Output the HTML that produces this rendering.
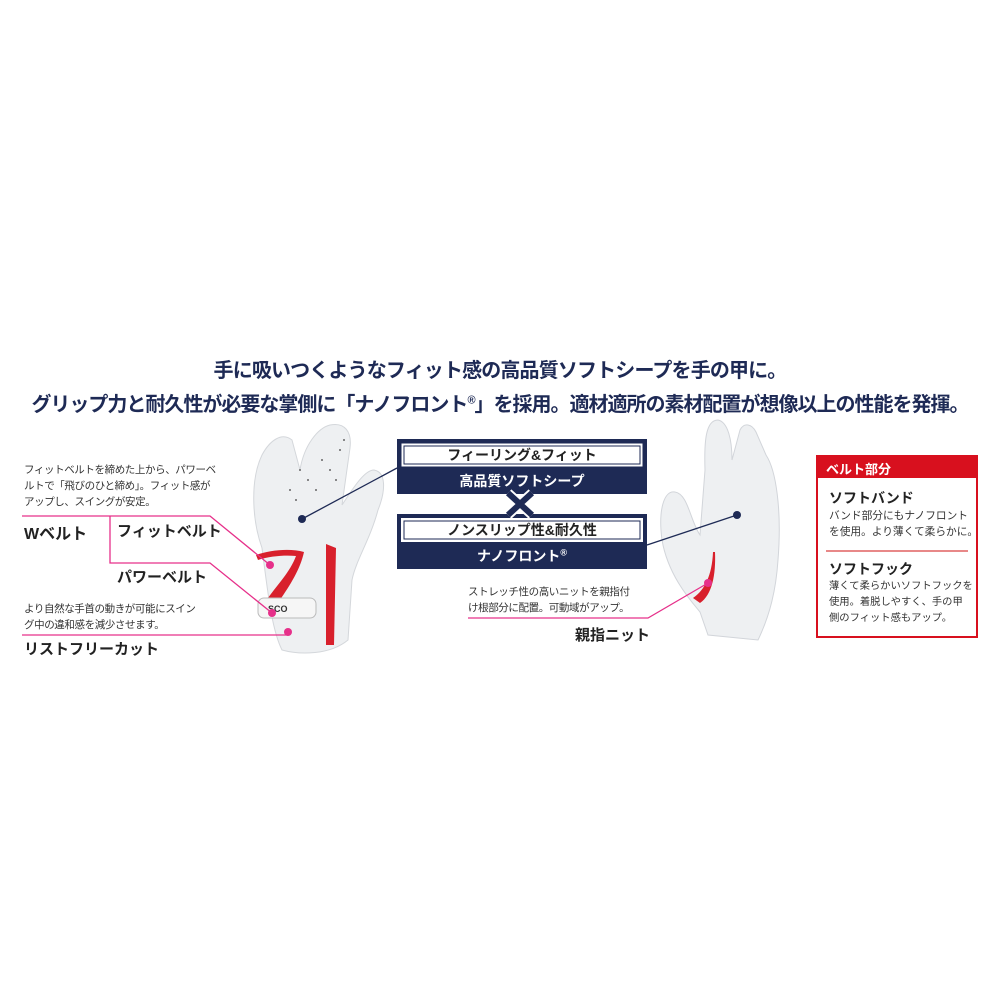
<!DOCTYPE html>
<html><head><meta charset="utf-8"><style>
body{margin:0;width:1000px;height:1000px;background:#fff;position:relative;overflow:hidden;font-family:"Liberation Sans","Noto Sans CJK JP",sans-serif;color:#222}
.a{position:absolute;white-space:nowrap}
.t{font-weight:bold;color:#1e2a55;font-size:20px}
.p{font-size:10.5px;line-height:16px;color:#333;letter-spacing:-0.4px}
.h{font-weight:bold;font-size:15px;color:#222}
</style></head><body>
<svg class="a" style="left:0;top:0" width="1000" height="1000">
<g fill="#eef0f2" stroke="#d4d7db" stroke-width="1">
<path d="M262,548 C252,520 250,480 262,455 C270,440 282,432 292,440 L300,470 C304,445 318,428 330,425 C345,422 352,432 350,448 L342,505 C352,490 364,470 374,470 C386,472 386,490 378,510 C370,540 356,560 352,580 L348,640 C330,655 300,655 282,650 C272,630 268,595 262,548 Z"/>
</g>
<path d="M326,544 L336,548 L334,645 L326,645 Z" fill="#d8202c"/>
<path d="M258,560 C270,556 285,555 296,556 C290,572 278,584 268,598 L280,600 C290,585 300,570 304,552 C290,548 270,550 256,555 Z" fill="#d8202c"/>
<rect x="258" y="598" width="58" height="20" rx="6" fill="#f6f6f6" stroke="#bbb"/>
<text x="268" y="612" font-size="9" font-family="Liberation Sans" fill="#333" font-weight="bold">SCO</text>
<g fill="#666"><circle cx="300" cy="470" r="1"/><circle cx="308" cy="480" r="1"/><circle cx="316" cy="490" r="1"/><circle cx="322" cy="460" r="1"/><circle cx="330" cy="470" r="1"/><circle cx="336" cy="480" r="1"/><circle cx="340" cy="450" r="1"/><circle cx="344" cy="440" r="1"/><circle cx="290" cy="490" r="1"/><circle cx="296" cy="500" r="1"/></g>
<path d="M700,612 C690,600 668,575 662,540 C658,510 664,490 675,492 C688,494 690,520 700,535 L705,470 C704,440 706,420 718,420 C728,422 732,440 732,460 L740,430 C744,422 752,424 756,432 L766,455 C776,470 782,510 778,560 C776,590 770,615 758,640 L708,635 Z" fill="#eef0f2" stroke="#d2d5da"/>
<path d="M713,552 C712,575 705,590 693,598 L700,603 C712,595 716,575 715,552 Z" fill="#d8202c"/>
<g fill="none" stroke-width="1.3">
<path d="M22,516 H210 L270,565 M110,516 V563 H210 L272,613 M22,635 H288" stroke="#e6308a"/>
<path d="M468,618 H648 L708,583" stroke="#e6308a"/>
<path d="M302,519 L397,468 M737,515 L647,545" stroke="#1e2a55"/>
</g>
<g fill="#e6308a"><circle cx="270" cy="565" r="4"/><circle cx="272" cy="613" r="4"/><circle cx="288" cy="632" r="4"/><circle cx="708" cy="583" r="4"/></g>
<g fill="#1e2a55"><circle cx="302" cy="519" r="4"/><circle cx="737" cy="515" r="4"/></g>
<rect x="397" y="439" width="250" height="55" fill="#1e2a55"/>
<rect x="401" y="443" width="242" height="24" fill="#fff" stroke="#1e2a55" stroke-width="1"/>
<rect x="404" y="446" width="236" height="18" fill="none" stroke="#1e2a55" stroke-width="1"/>
<rect x="397" y="514" width="250" height="55" fill="#1e2a55"/>
<rect x="401" y="518" width="242" height="24" fill="#fff"/>
<rect x="404" y="521" width="236" height="18" fill="none" stroke="#1e2a55" stroke-width="1"/>
<path d="M508,493 L532,515 M532,493 L508,515" stroke="#fff" stroke-width="10"/>
<path d="M508,493 L532,515 M532,493 L508,515" stroke="#1e2a55" stroke-width="6"/>
<rect x="817" y="456" width="160" height="181" fill="#fff" stroke="#d8101e" stroke-width="2"/>
<rect x="817" y="456" width="160" height="22" fill="#d8101e"/>
<line x1="826" y1="551" x2="968" y2="551" stroke="#e06060" stroke-width="1.5"/>
</svg>
<div class="a t" style="left:0;width:1000px;text-align:center;top:354px;letter-spacing:-0.85px">手に吸いつくようなフィット感の高品質ソフトシープを手の甲に。</div>
<div class="a t" style="left:0;width:1000px;text-align:center;top:388px;letter-spacing:-1px">グリップ力と耐久性が必要な掌側に「ナノフロント<sup style="font-size:11px">®</sup>」を採用。適材適所の素材配置が想像以上の性能を発揮。</div>
<div class="a p" style="left:24px;top:462px">フィットベルトを締めた上から、パワーベ<br>ルトで「飛びのひと締め」。フィット感が<br>アップし、スイングが安定。</div>
<div class="a h" style="left:24px;top:520px;font-size:16px">Wベルト</div>
<div class="a h" style="left:117px;top:520px">フィットベルト</div>
<div class="a h" style="left:117px;top:566px">パワーベルト</div>
<div class="a p" style="left:24px;top:601px">より自然な手首の動きが可能にスイン<br>グ中の違和感を減少させます。</div>
<div class="a h" style="left:24px;top:638px">リストフリーカット</div>
<div class="a" style="left:397px;width:250px;text-align:center;top:445px;font-size:14px;font-weight:bold;color:#222">フィーリング&amp;フィット</div>
<div class="a" style="left:397px;width:250px;text-align:center;top:471px;font-size:14px;font-weight:bold;color:#fff">高品質ソフトシープ</div>
<div class="a" style="left:397px;width:250px;text-align:center;top:520px;font-size:14px;font-weight:bold;color:#222">ノンスリップ性&amp;耐久性</div>
<div class="a" style="left:397px;width:250px;text-align:center;top:546px;font-size:14px;font-weight:bold;color:#fff">ナノフロント<sup style="font-size:9px">®</sup></div>
<div class="a p" style="left:468px;top:584px">ストレッチ性の高いニットを親指付<br>け根部分に配置。可動域がアップ。</div>
<div class="a h" style="left:575px;top:624px">親指ニット</div>
<div class="a" style="left:826px;top:459px;font-size:13px;font-weight:bold;color:#fff">ベルト部分</div>
<div class="a h" style="left:829px;top:488px;font-size:14px">ソフトバンド</div>
<div class="a p" style="left:829px;top:508px;font-size:10.7px;letter-spacing:0">バンド部分にもナノフロント<br>を使用。より薄くて柔らかに。</div>
<div class="a h" style="left:829px;top:559px;font-size:14px">ソフトフック</div>
<div class="a p" style="left:829px;top:579px;font-size:10.3px;letter-spacing:0">薄くて柔らかいソフトフックを<br>使用。着脱しやすく、手の甲<br>側のフィット感もアップ。</div>
</body></html>
